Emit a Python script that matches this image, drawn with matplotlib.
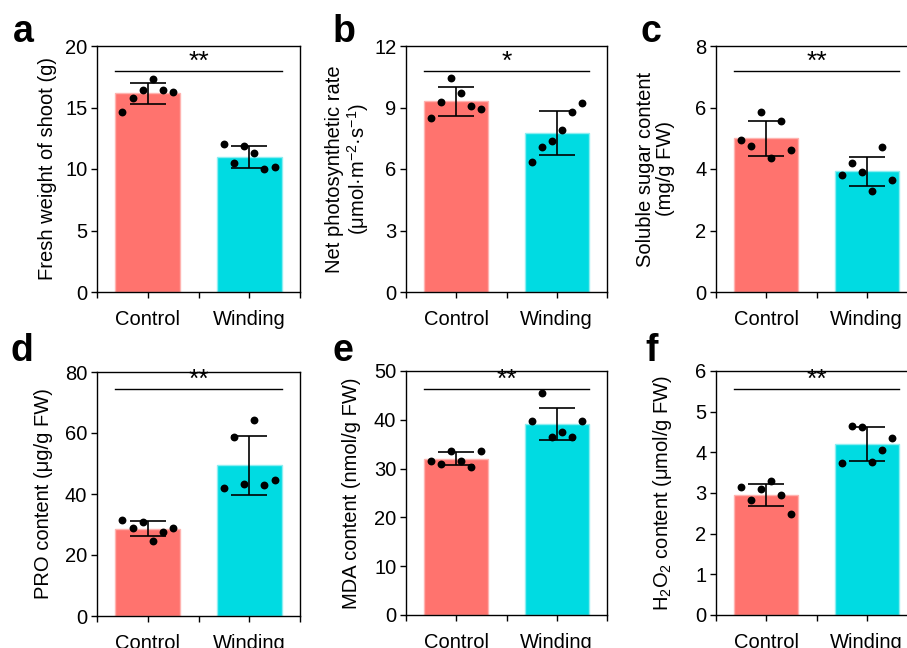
import numpy as np
import matplotlib
matplotlib.use('Agg')
import matplotlib.pyplot as plt
from matplotlib.ticker import FixedLocator

plt.rcParams['font.family'] = ['Liberation Sans', 'DejaVu Sans']
plt.rcParams['mathtext.default'] = 'regular'

# Groups
groups = ['Control', 'Winding']

# Individual points (6 per group)
fresh_ctrl = [14.66, 15.74, 16.42, 17.29, 16.40, 16.30]
fresh_wind = [12.00, 10.50, 11.87, 11.33, 9.97, 10.20]
photo_ctrl = [8.50, 9.27, 10.44, 9.72, 9.06, 8.94]
photo_wind = [6.36, 7.07, 7.37, 7.90, 8.76, 9.24]
sugar_ctrl = [4.93, 4.74, 5.85, 4.36, 5.57, 4.63]
sugar_wind = [3.80, 4.20, 3.89, 3.27, 4.70, 3.64]
pro_ctrl = [31.4, 28.9, 30.7, 24.6, 27.4, 29.0]
pro_wind = [42.0, 58.6, 43.3, 64.1, 43.1, 44.5]
mda_ctrl = [31.65, 31.0, 33.7, 31.65, 30.35, 33.7]
mda_wind = [39.7, 45.4, 36.5, 37.45, 36.5, 39.7]
h2o2_ctrl = [3.14, 2.82, 3.09, 3.30, 2.955, 2.48]
h2o2_wind = [3.74, 4.65, 4.62, 3.76, 4.06, 4.36]

# Bar means and SD
fresh_mean, fresh_sd = [16.15, 10.95], [0.88, 0.88]
photo_mean, photo_sd = [9.30, 7.77], [0.70, 1.08]
sugar_mean, sugar_sd = [5.0, 3.92], [0.57, 0.48]
pro_mean, pro_sd = [28.6, 49.4], [2.4, 9.6]
mda_mean, mda_sd = [32.0, 39.15], [1.35, 3.35]
h2o2_mean, h2o2_sd = [2.955, 4.20], [0.27, 0.42]

ylabels = ['Fresh weight of shoot (g)',
           'Net photosynthetic rate\n(μmol·m$^{-2}$·s$^{-1}$)',
           'Soluble sugar content\n(mg/g FW)',
           'PRO content (μg/g FW)',
           'MDA content (nmol/g FW)',
           'H$_2$O$_2$ content (μmol/g FW)']
ymaxes = [20, 12, 8, 80, 50, 6]
ysteps = [5, 3, 2, 20, 10, 1]
sig_marks = ['**', '*', '**', '**', '**', '**']
sig_y = [18, 10.8, 7.2, 74.5, 46.3, 5.55]
letters = ['a', 'b', 'c', 'd', 'e', 'f']

points = [(fresh_ctrl, fresh_wind), (photo_ctrl, photo_wind), (sugar_ctrl, sugar_wind),
          (pro_ctrl, pro_wind), (mda_ctrl, mda_wind), (h2o2_ctrl, h2o2_wind)]
means = [fresh_mean, photo_mean, sugar_mean, pro_mean, mda_mean, h2o2_mean]
sds = [fresh_sd, photo_sd, sugar_sd, pro_sd, mda_sd, h2o2_sd]

W, H = 907, 648
fig = plt.figure(figsize=(W / 100, H / 100), dpi=100)

# axes boxes in pixels: left, top, right, bottom
boxes = [(97, 46, 300, 292), (406, 46, 607, 292), (716, 46, 917, 292),
         (97, 372, 300, 616), (406, 371, 607, 615), (716, 371, 917, 615)]
label_x = [-0.246, -0.29, -0.30, -0.266, -0.27, -0.264]
letter_pos = [(13, 42), (333, 42), (641, 42), (11, 361), (333, 361), (645, 361)]

bar_colors = ['#FF736E', '#00DBE2']
edge_colors = ['#FFB3B0', '#8CEEF1']
offsets = np.array([-0.25, -0.15, -0.05, 0.05, 0.15, 0.25])
x = np.arange(2)

for i in range(6):
    l, t, r, b = boxes[i]
    ax = fig.add_axes([l / W, 1 - b / H, (r - l) / W, (b - t) / H])
    ax.bar(x, means[i], width=0.64, color=bar_colors, edgecolor=edge_colors,
           linewidth=1, zorder=1)
    ax.errorbar(x, means[i], yerr=sds[i], fmt='none', ecolor='black',
                elinewidth=1.2, capsize=13, capthick=1.2, zorder=2)
    for k in range(2):
        ax.scatter(x[k] + offsets, points[i][k], s=32, color='black', zorder=3,
                   linewidths=0)
    ax.plot([-0.32, 1.32], [sig_y[i], sig_y[i]], color='black', lw=1)
    # asterisks: the glyph sits high in the font, so anchor it below the line top
    ax.text(0.5, sig_y[i] - ymaxes[i] * 0.012, sig_marks[i], ha='center', va='bottom',
            fontsize=19)
    ax.set_xlim(-0.5, 1.5)
    ax.set_ylim(0, ymaxes[i])
    ax.set_yticks(np.arange(0, ymaxes[i] + ysteps[i] / 2, ysteps[i]))
    ax.set_xticks(x)
    ax.set_xticklabels(groups)
    ax.xaxis.set_minor_locator(FixedLocator([-0.5, 0.5, 1.5]))
    ax.tick_params(axis='both', which='both', direction='out', length=4, width=1,
                   labelsize=14.5, pad=3)
    ax.tick_params(axis='x', which='major', pad=9)
    for sp in ax.spines.values():
        sp.set_linewidth(1)
    ax.set_ylabel(ylabels[i], fontsize=14.5, va='center', linespacing=1.05)
    ax.yaxis.set_label_coords(label_x[i], 0.5)
    fig.text(letter_pos[i][0] / W, 1 - letter_pos[i][1] / H, letters[i],
             fontsize=27, fontweight='bold', ha='left', va='baseline')

fig.savefig('out.png', dpi=100)
